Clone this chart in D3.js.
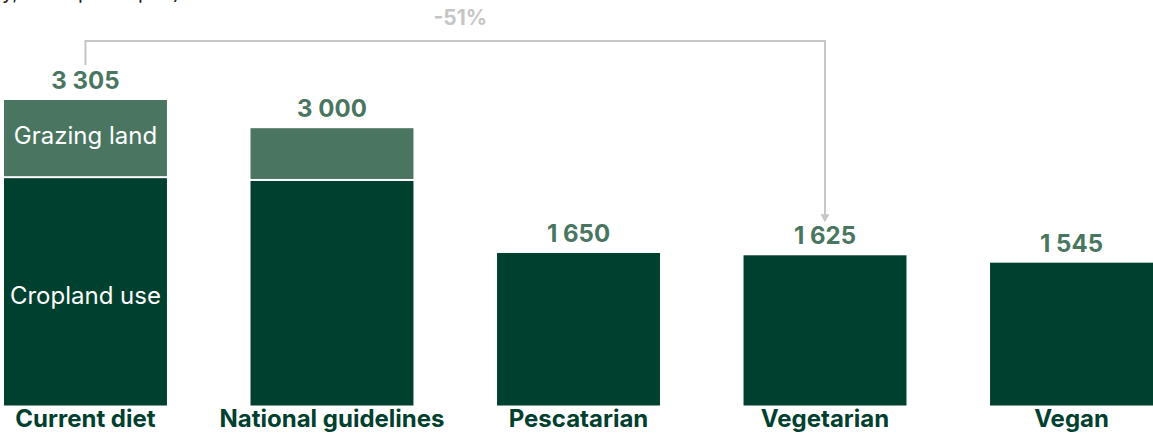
<!DOCTYPE html>
<html>
<head>
<meta charset="utf-8">
<script src="https://cdn.jsdelivr.net/npm/d3@7"></script>
<style>
  body { margin: 0; background: #fff; }
  svg { display: block; }
</style>
</head>
<body>
<div id="chart"></div>
<script>
// land use per capita by diet
const diets = ["Current diet", "National guidelines", "Pescatarian", "Vegetarian", "Vegan"];
const cropland = [2470, 2440, 1650, 1625, 1545];
const grazing = [835, 560, 0, 0, 0];
const totals = [3305, 3000, 1650, 1625, 1545];
const totalLabels = ["3 305", "3 000", "1 650", "1 625", "1 545"];
const changeLabel = "-51%";

const width = 1153,
  height = 433;

const dark = "#00402f",
  mid = "#4a7661",
  grey = "#c6c6c6";

const svg = d3
  .select("#chart")
  .append("svg")
  .attr("width", width)
  .attr("height", height)
  .attr("viewBox", `0 0 ${width} ${height}`);

let x = d3
  .scaleBand()
  .domain(diets)
  .range([4, 1153])
  .paddingInner(0.339)
  .paddingOuter(0);

let y = d3.scaleLinear().domain([0, 3305]).range([405.5, 100]);

// cut off subtitle at the very top
svg
  .append("text")
  .attr("x", 2)
  .attr("y", -1)
  .attr("font-family", "Inter, sans-serif")
  .attr("font-size", 20)
  .attr("fill", "#222")
  .text("y, in m² per capita)");

const rows = diets.map((d, i) => ({
  diet: d,
  crop: cropland[i],
  graze: grazing[i],
  total: totals[i],
  label: totalLabels[i]
}));

// cropland segment
svg
  .selectAll("rect.crop")
  .data(rows)
  .enter()
  .append("rect")
  .attr("class", "crop")
  .attr("x", d => x(d.diet))
  .attr("width", x.bandwidth())
  .attr("y", d => y(d.crop) + (d.graze ? 1 : 0))
  .attr("height", d => y(0) - y(d.crop) - (d.graze ? 1 : 0))
  .attr("fill", dark);

// grazing segment on top
svg
  .selectAll("rect.graze")
  .data(rows.filter(d => d.graze > 0))
  .enter()
  .append("rect")
  .attr("class", "graze")
  .attr("x", d => x(d.diet))
  .attr("width", x.bandwidth())
  .attr("y", d => y(d.total))
  .attr("height", d => y(d.crop) - y(d.total) - 1)
  .attr("fill", mid);

// totals above the bars
svg
  .selectAll("text.total")
  .data(rows)
  .enter()
  .append("text")
  .attr("class", "total")
  .attr("x", d => x(d.diet) + x.bandwidth() / 2)
  .attr("y", d => y(d.total) - 11)
  .attr("text-anchor", "middle")
  .attr("font-family", "Inter, sans-serif")
  .attr("font-weight", 700)
  .attr("font-size", 24)
  .attr("fill", mid)
  .text(d => d.label);

// category labels
svg
  .selectAll("text.cat")
  .data(rows)
  .enter()
  .append("text")
  .attr("class", "cat")
  .attr("x", d => x(d.diet) + x.bandwidth() / 2)
  .attr("y", 427)
  .attr("text-anchor", "middle")
  .attr("font-family", "Inter, sans-serif")
  .attr("font-weight", 700)
  .attr("font-size", 24)
  .attr("fill", dark)
  .text(d => d.diet);

// segment labels inside the first bar
const first = rows[0];
const cx = x(first.diet) + x.bandwidth() / 2;
svg
  .append("text")
  .attr("x", cx)
  .attr("y", (y(first.total) + y(first.crop)) / 2 - 3)
  .attr("dy", "0.35em")
  .attr("text-anchor", "middle")
  .attr("font-family", "Inter, sans-serif")
  .attr("font-size", 24)
  .attr("fill", "#fff")
  .text("Grazing land");
svg
  .append("text")
  .attr("x", cx)
  .attr("y", (y(first.crop) + y(0)) / 2 + 4)
  .attr("dy", "0.35em")
  .attr("text-anchor", "middle")
  .attr("font-family", "Inter, sans-serif")
  .attr("font-size", 24)
  .attr("fill", "#fff")
  .text("Cropland use");

// bracket from current diet to vegetarian
const target = rows[3];
const x1 = cx,
  x2 = x(target.diet) + x.bandwidth() / 2;
const topY = 41;
svg
  .append("path")
  .attr("d", `M${x1},${y(first.total) - 35}V${topY}H${x2}V${y(target.total) - 40}`)
  .attr("fill", "none")
  .attr("stroke", grey)
  .attr("stroke-width", 2);
svg
  .append("path")
  .attr("d", `M${x2 - 4.5},${y(target.total) - 41}L${x2 + 4.5},${y(target.total) - 41}L${x2},${y(target.total) - 33}Z`)
  .attr("fill", grey);
svg
  .append("text")
  .attr("x", (x1 + x2) / 2 + 5)
  .attr("y", 25)
  .attr("text-anchor", "middle")
  .attr("font-family", "Inter, sans-serif")
  .attr("font-weight", 700)
  .attr("font-size", 21)
  .attr("fill", grey)
  .text(changeLabel);
</script>
</body>
</html>
